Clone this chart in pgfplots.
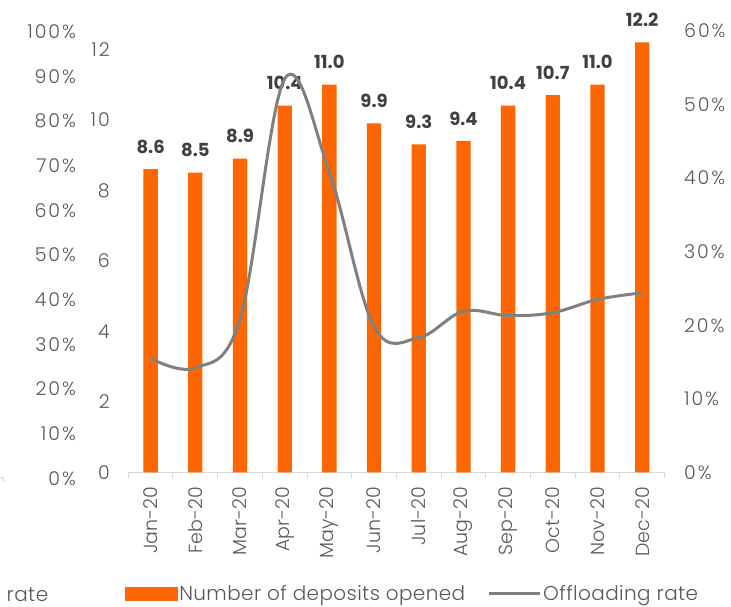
\documentclass[border=0pt]{standalone}
\usepackage{fontspec}
\setmainfont{Poppins}
\newfontfamily\ytickfont[LetterSpace=10]{Poppins Light}
\newfontfamily\xtickfont{Poppins Light}
\newfontfamily\legfont[LetterSpace=2]{Poppins Light}
\usepackage{pgfplots}
\pgfplotsset{compat=1.18}
\definecolor{barc}{HTML}{FF6600}
\definecolor{linc}{HTML}{808080}
\definecolor{tl}{HTML}{595959}
\definecolor{dl}{HTML}{404040}
\definecolor{axc}{HTML}{D9D9D9}
\begin{document}
\begin{tikzpicture}[x=1pt,y=1pt]
\useasboundingbox (0,0) rectangle (731,607);
\pgfplotsset{every axis/.append style={scale only axis,
  /pgf/number format/assume math mode=true,
  tick label style={text=tl, inner sep=0pt},
  yticklabel style={font=\ytickfont\fontsize{19}{22}\selectfont},
  xticklabel style={font=\xtickfont\fontsize{19}{22}\selectfont}}}
% fragment of neighbouring chart
\begin{axis}[at={(76pt,128.7pt)}, anchor=south west, width=10pt, height=446.6pt,
  ymin=0, ymax=100, xmin=0, xmax=1, axis line style={draw=none},
  ytick={0,10,...,100}, yticklabel={\pgfmathprintnumber{\tick}\%},
  xtick=\empty, major tick length=0pt, yticklabel style={anchor=east}]
\end{axis}
\draw[axc, line width=1pt] (0,129.3) -- (3.3,129.3) -- (3.3,125.3);
\node[anchor=base west, inner sep=0pt, font=\legfont\fontsize{20}{22}\selectfont, text=tl] at (6.5,5) {rate};
% main bar axis
\begin{axis}[at={(128.3pt,134.7pt)}, anchor=south west, width=536.2pt, height=441.3pt,
  xmin=-0.5, xmax=11.5, ymin=0, ymax=12.52,
  ytick={0,2,...,12},
  axis y line*=left, axis x line*=bottom,
  y axis line style={draw=none},
  x axis line style={draw=axc, line width=1pt},
  xtick={0,...,11},
  xticklabels={Jan-20,Feb-20,Mar-20,Apr-20,May-20,Jun-20,Jul-20,Aug-20,Sep-20,Oct-20,Nov-20,Dec-20},
  minor xtick={-0.5,0.5,...,11.5},
  major tick length=0pt, minor tick length=6pt, tick align=outside,
  minor x tick style={draw=axc, line width=1pt},
  yticklabel style={anchor=east, xshift=-18.3pt},
  xticklabel style={yshift=-14.7pt, rotate=90, anchor=east},
  clip=false]
\addplot[ybar, bar width=14.3pt, fill=barc, draw=none,
  nodes near coords={\pgfmathprintnumber[fixed,fixed zerofill,precision=1]{\pgfplotspointmeta}},
  nodes near coords style={font=\bfseries\fontsize{18}{20}\selectfont, text=dl, inner sep=0pt, anchor=south, yshift=15.6pt}]
coordinates {(0,8.6) (1,8.5) (2,8.9) (3,10.4) (4,11.0) (5,9.9) (6,9.3) (7,9.4) (8,10.4) (9,10.7) (10,11.0) (11,12.2)};
\end{axis}
% line axis (right)
\begin{axis}[at={(128.3pt,134.7pt)}, anchor=south west, width=536.2pt, height=441.3pt,
  xmin=-0.5, xmax=11.5, ymin=0, ymax=60,
  ytick={0,10,...,60}, yticklabel={\pgfmathprintnumber{\tick}\%},
  axis y line*=right, axis x line=none,
  y axis line style={draw=none}, major tick length=0pt,
  yticklabel style={anchor=west, xshift=19.5pt},
  clip=false,
  legend style={at={(-0.00615,-0.275)}, anchor=west, draw=none, fill=none, inner sep=0pt,
    font=\legfont\fontsize{20}{22}\selectfont, text=tl, legend columns=2,
    /tikz/every even column/.append style={column sep=20pt}},
  legend cell align=left]
\addlegendimage{legend image code/.code={\fill[barc] (0pt,-6.35pt) rectangle (51.7pt,6.35pt);}}
\addlegendentry{Number of deposits opened}
\addplot[linc, line width=3pt, smooth, tension=0.6,
  legend image code/.code={\draw[linc, line width=3pt] (0pt,0pt) -- (45pt,0pt); \path (0pt,0pt) -- (51pt,0pt);}]
coordinates {(0,15.5) (1,14.2) (2,20.8) (3,53.5) (4,40.8) (5,19.8) (6,18.3) (7,21.9) (8,21.3) (9,21.7) (10,23.5) (11,24.4)};
\addlegendentry{Offloading rate}
\end{axis}
\end{tikzpicture}
\end{document}
